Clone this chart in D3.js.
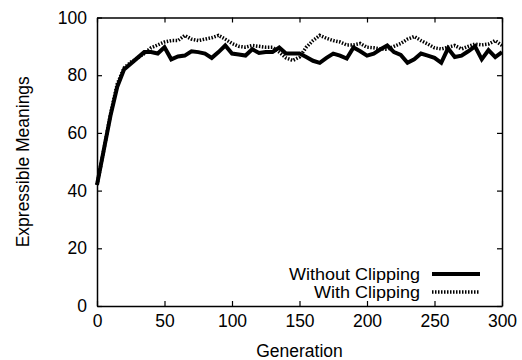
<!DOCTYPE html>
<html>
<head>
<meta charset="utf-8">
<script src="https://cdn.jsdelivr.net/npm/d3@7"></script>
<style>
  body { margin: 0; background: #fff; }
  svg { display: block; font-family: "Liberation Sans", Arial, sans-serif; }
  .axis path, .axis line { stroke: #000; }
  .axis text { font-size: 17.5px; fill: #000; }
</style>
</head>
<body>
<div id="chart"></div>
<script>
// generations sampled every 5
const generations = d3.range(0, 301, 5);

const withoutClipping = [
    42, 54, 66, 76, 82, 84, 86, 88, 88, 87.5,
    89.7, 85.5, 86.5, 86.8, 88.3, 88, 87.5, 86, 88, 90.3,
    87.5, 87.2, 86.8, 89, 87.7, 88, 88, 89.6, 87.5, 87.5,
    87.5, 86.3, 85, 84.3, 86, 87.5, 86.8, 85.8, 89.6, 88.3,
    86.8, 87.5, 89, 90.3, 88, 87, 84.3, 85.5, 87.5, 86.8,
    86, 84.3, 89.3, 86.3, 86.8, 88.3, 90, 85.5, 88.7, 86.3,
    88
];

const withClipping = [
    42, 54, 66.5, 77, 82.5, 84.5, 86, 87.5, 89.5, 90.5,
    91.5, 92, 92, 93.8, 92.5, 92, 92.5, 93, 93.8, 92.5,
    91, 90, 89.7, 90.3, 90, 89.7, 89.7, 88, 86, 85.1,
    86.3, 89.7, 92, 93.8, 92.8, 92, 91.5, 90.5, 90.5, 91,
    89.7, 89.5, 89.1, 89, 90, 91, 92.5, 93.4, 92, 90.8,
    89.5, 89.1, 89.7, 90.3, 89.1, 90, 90.8, 90.5, 90.8, 92,
    90.3
];

const xTicks = [0, 50, 100, 150, 200, 250, 300];
const yTicks = [0, 20, 40, 60, 80, 100];
const seriesNames = ["Without Clipping", "With Clipping"];

const width = 522, height = 360;
const margin = { top: 17.5, right: 20, bottom: 54, left: 97 };
const fontSize = "17.5px";

const svg = d3.select("#chart").append("svg")
    .attr("width", width)
    .attr("height", height);

const x = d3.scaleLinear().domain([0, 300]).range([margin.left, width - margin.right]);
const y = d3.scaleLinear().domain([0, 100]).range([height - margin.bottom, margin.top]);

// axes, gnuplot style: ticks pointing inward on all four sides
const tickLen = 5;
svg.append("g").attr("class", "axis")
    .attr("transform", `translate(0,${y(0)})`)
    .call(d3.axisBottom(x).tickValues(xTicks).tickSizeInner(-tickLen).tickSizeOuter(0).tickPadding(5))
    .call(g => g.selectAll("text").attr("dy", "0.9em"));
svg.append("g").attr("class", "axis")
    .attr("transform", `translate(0,${y(100)})`)
    .call(d3.axisTop(x).tickValues(xTicks).tickSizeInner(-tickLen).tickSizeOuter(0).tickFormat(""));
svg.append("g").attr("class", "axis")
    .attr("transform", `translate(${x(0)},0)`)
    .call(d3.axisLeft(y).tickValues(yTicks).tickSizeInner(-tickLen).tickSizeOuter(0).tickPadding(10));
svg.append("g").attr("class", "axis")
    .attr("transform", `translate(${x(300)},0)`)
    .call(d3.axisRight(y).tickValues(yTicks).tickSizeInner(-tickLen).tickSizeOuter(0).tickFormat(""));

svg.selectAll(".axis path").attr("stroke-width", 1.5);
svg.selectAll(".axis line").attr("stroke-width", 1.2);

// axis titles
svg.append("text")
    .attr("x", (x(0) + x(300)) / 2)
    .attr("y", 357)
    .attr("text-anchor", "middle")
    .style("font-size", fontSize)
    .text("Generation");

svg.append("text")
    .attr("transform", `translate(29,${(y(0) + y(100)) / 2}) rotate(-90)`)
    .attr("text-anchor", "middle")
    .style("font-size", fontSize)
    .text("Expressible Meanings");

const line = d3.line()
    .x((d, i) => x(generations[i]))
    .y(d => y(d));

const styles = [
    { width: 4, dash: null },
    { width: 3.5, dash: "1.5,1.5" }
];

// dotted drawn first, solid on top
[withClipping, withoutClipping].forEach((s, k) => {
    const st = styles[1 - k];
    svg.append("path")
        .datum(s)
        .attr("fill", "none")
        .attr("stroke", "#000")
        .attr("stroke-width", st.width)
        .attr("stroke-linejoin", "miter")
        .attr("stroke-dasharray", st.dash)
        .attr("d", line);
});

// legend (16px so the two rows don't collide, stretched to the reference width)
const legend = svg.append("g");
seriesNames.forEach((name, i) => {
    const ly = 274 + i * 18;
    legend.append("text")
        .attr("x", 420)
        .attr("y", ly)
        .attr("dy", "0.35em")
        .attr("text-anchor", "end")
        .style("font-size", "16px")
        .attr("textLength", i === 0 ? 131 : 106)
        .attr("lengthAdjust", "spacingAndGlyphs")
        .text(name);
    legend.append("line")
        .attr("x1", 432).attr("x2", 480)
        .attr("y1", ly).attr("y2", ly)
        .attr("stroke", "#000")
        .attr("stroke-width", styles[i].width)
        .attr("stroke-dasharray", styles[i].dash);
});
</script>
</body>
</html>
